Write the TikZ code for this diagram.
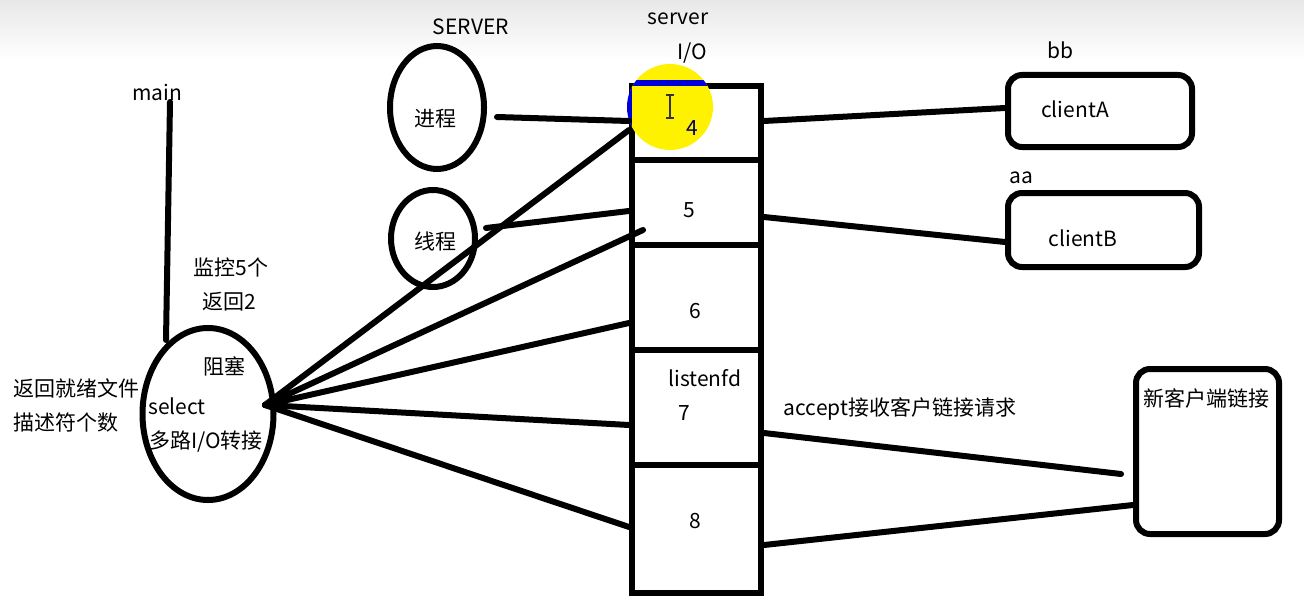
\documentclass[tikz,border=0pt]{standalone}
\usepackage{fontspec}
\setmainfont{Noto Sans CJK SC}
\usetikzlibrary{shapes.geometric,calc}
\begin{document}
\begin{tikzpicture}[x=0.5pt,y=-0.5pt,
  thick line/.style={line width=3pt,line cap=round},
  lbl/.style={inner sep=0pt,font=\fontsize{10.5}{12}\selectfont},
  oval/.style={ellipse,draw,line width=3pt,inner sep=0pt},
  cell/.style={rectangle,draw,line width=3pt,minimum width=64.5pt,inner sep=0pt},
  rbox/.style={rectangle,draw,line width=3pt,rounded corners=7pt,inner sep=0pt}]
\useasboundingbox (0,0) rectangle (1304,615);
\fill[white] (0,0) rectangle (1304,615);
\shade[top color=black!9,bottom color=white] (0,0) rectangle (1304,60);

% main and select
\node[lbl] (main) at (157,93) {main};
\node[oval,minimum width=65.5pt,minimum height=86pt] (sel) at (208,414) {};
\coordinate (mtop) at (170,102);
\coordinate (mbot) at (166,340);
\draw[thick line] (mtop) -- (mbot);
\node[lbl] (zs) at (224,366) {阻塞};
\node[lbl] (sl) at (177,406) {select};
\node[lbl] (dl) at (206,442) {多路I/O转接};
\node[lbl] (jk) at (231,267) {监控5个};
\node[lbl] (fh) at (229,302) {返回2};
\node[lbl] (fj1) at (76,388) {返回就绪文件};
\node[lbl] (fj2) at (66,423) {描述符个数};

% server process / thread
\node[lbl] (SRV) at (471,27) {SERVER};
\node[oval,minimum width=47pt,minimum height=61.5pt] (jc) at (437,107.5) {};
\node[lbl] (jct) at (435,119) {进程};
\node[oval,minimum width=42pt,minimum height=48.5pt] (xc) at (433,238.5) {};
\node[lbl] (xct) at (435,241) {线程};

% I/O column
\node[lbl] (srv) at (678,19) {server};
\node[lbl] (io) at (692,53) {I/O};
\node[cell,minimum height=37pt] (b4) at (696.5,123) {};
\node[cell,minimum height=42.5pt] (b5) at (696.5,202.5) {};
\node[cell,minimum height=52.5pt] (b6) at (696.5,297.5) {};
\node[cell,minimum height=57.5pt] (b7) at (696.5,407.5) {};
\node[cell,minimum height=64pt] (b8) at (696.5,529) {};

% cursor highlight
\begin{scope}
  \clip (630,0) rectangle (800,200);
  \fill[yellow] (670,107) circle (21.5pt);
\end{scope}
\begin{scope}
  \clip (670,107) circle (21.5pt);
  \draw[blue!85!black,line width=3pt] (b4.south west) -- (b4.north west) -- (b4.north east);
\end{scope}
\draw[black!80,line width=0.6pt] (670,95) -- (670,118) (666,95) -- (674,95) (666,118) -- (674,118);

\node[lbl,text=blue!40!black] (n4) at (692,128) {4};
\node[lbl] (n5) at (689,210) {5};
\node[lbl] (n6) at (695,311) {6};
\node[lbl] (lf) at (705,378) {listenfd};
\node[lbl] (n7) at (684,413) {7};
\node[lbl] (n8) at (695,521) {8};

% clients
\node[lbl] (bb) at (1060,50) {bb};
\node[rbox,minimum width=92pt,minimum height=36pt] (cA) at (1100,111) {};
\node[lbl] (cAt) at (1075,109) {clientA};
\node[lbl] (aa) at (1021,178) {aa};
\node[rbox,minimum width=95.5pt,minimum height=37pt] (cB) at (1103.5,230) {};
\node[lbl] (cBt) at (1083,238) {clientB};
\node[rbox,minimum width=71.5pt,minimum height=82.5pt] (nc) at (1207.5,451.5) {};
\node[lbl] (nct) at (1206,398) {新客户端链接};
\node[lbl] (acc) at (900,409) {accept接收客户链接请求};

% connectors
\draw[thick line] ([xshift=5pt]jc.east |- 0,117) -- (b4.west |- 0,121);
\draw[thick line] ([xshift=4pt]xc.east |- 0,228) -- (b5.west |- 0,211);
\draw[thick line] (b4.east |- 0,121) -- (cA.west |- 0,108);
\draw[thick line] (b5.east |- 0,217) -- (cB.west |- 0,242);
\draw[thick line] (b7.east |- 0,433) -- ([xshift=-6pt]nc.west |- 0,474);
\draw[thick line] (b8.east |- 0,545) -- (nc.west |- 0,505);

\coordinate (fan) at (265,405);
\draw[thick line] (fan) -- (b4.west |- 0,130);
\draw[thick line] (fan) -- ([xshift=7pt]b5.west |- 0,230);
\draw[thick line] (fan) -- (b6.west |- 0,323);
\draw[thick line] (fan) -- (b7.west |- 0,425);
\draw[thick line] (fan) -- (b8.west |- 0,527);
\end{tikzpicture}
\end{document}
